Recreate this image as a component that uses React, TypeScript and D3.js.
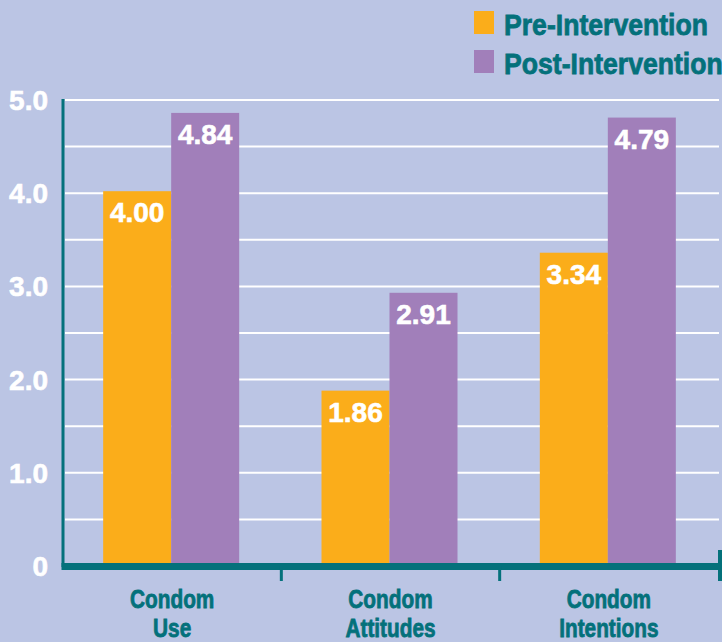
import React from "react";
import * as d3 from "d3";

const categories = [["Condom", "Use"], ["Condom", "Attitudes"], ["Condom", "Intentions"]];
const seriesNames = ["Pre-Intervention", "Post-Intervention"];
const preValues = [4.0, 1.86, 3.34];
const postValues = [4.84, 2.91, 4.79];
const yTickValues = [0, 1, 2, 3, 4, 5];
const yTickLabels = ["0", "1.0", "2.0", "3.0", "4.0", "5.0"];
const gridValues = [0.5, 1, 1.5, 2, 2.5, 3, 3.5, 4, 4.5, 5];

const W = 722;
const H = 642;
const BG = "#BBC5E4";
const TEAL = "#04717B";
const colors = ["#FBAD1A", "#A17FBA"];
const FONT = "'Liberation Sans', Arial, Helvetica, sans-serif";

const App = () => {
  const x = d3
    .scaleBand()
    .domain(categories.map((c, i) => String(i)))
    .range([63, 718])
    .padding(0);
  const inner = d3
    .scaleBand()
    .domain(seriesNames)
    .range([0, 136])
    .padding(0);
  const y = d3.scaleLinear().domain([0, 5]).range([566, 100]);

  const series = [preValues, postValues];
  const offset = (x.bandwidth() - 136) / 2 - 1;

  return (
    <svg
      width={W}
      height={H}
      style={{ position: "absolute", left: 0, top: 0, display: "block" }}
    >
      <rect x={0} y={0} width={W} height={H} fill={BG} />

      {/* gridlines */}
      {gridValues.map((v) => (
        <line
          key={v}
          x1={65}
          x2={719}
          y1={y(v)}
          y2={y(v)}
          stroke="#ffffff"
          strokeWidth={2}
        />
      ))}

      {/* bars */}
      {categories.map((c, i) =>
        series.map((vals, s) => {
          const bx = (x(String(i)) || 0) + offset + (inner(seriesNames[s]) || 0);
          const by = y(vals[i]) - 2;
          return (
            <g key={`${i}-${s}`}>
              <rect
                x={bx}
                y={by}
                width={inner.bandwidth()}
                height={y(0) - by}
                fill={colors[s]}
              />
              <text
                x={bx + inner.bandwidth() / 2}
                y={by + 31}
                textAnchor="middle"
                fill="#ffffff"
                stroke="#ffffff"
                strokeWidth={0.6}
                fontFamily={FONT}
                fontWeight="bold"
                fontSize={28}
              >
                {vals[i].toFixed(2)}
              </text>
            </g>
          );
        })
      )}

      {/* y axis */}
      <line x1={63} x2={63} y1={99} y2={567} stroke={TEAL} strokeWidth={3} />
      {yTickValues.map((v, i) => (
        <text
          key={v}
          x={48}
          y={y(v)}
          dy="0.36em"
          textAnchor="end"
          fill="#ffffff"
          stroke="#ffffff"
          strokeWidth={0.6}
          fontFamily={FONT}
          fontWeight="bold"
          fontSize={28}
        >
          {yTickLabels[i]}
        </text>
      ))}

      {/* x axis */}
      <line x1={61.5} x2={722} y1={566.5} y2={566.5} stroke={TEAL} strokeWidth={7} />
      {categories.slice(1).map((c, i) => (
        <line
          key={i}
          x1={x(String(i + 1))}
          x2={x(String(i + 1))}
          y1={566}
          y2={581}
          stroke={TEAL}
          strokeWidth={3}
        />
      ))}
      <line x1={720} x2={720} y1={550} y2={581} stroke={TEAL} strokeWidth={4} />

      {categories.map((c, i) => {
        const cx = (x(String(i)) || 0) + x.bandwidth() / 2;
        return (
          <g key={i} transform={`translate(${cx},0) scale(0.8,1)`}>
            {c.map((line, j) => (
              <text
                key={j}
                x={0}
                y={608 + j * 29}
                textAnchor="middle"
                fill={TEAL}
                stroke={TEAL}
                strokeWidth={0.8}
                fontFamily={FONT}
                fontWeight="bold"
                fontSize={26}
              >
                {line}
              </text>
            ))}
          </g>
        );
      })}

      {/* legend */}
      {seriesNames.map((name, s) => (
        <g key={name}>
          <rect x={474} y={11 + s * 39} width={20} height={23} fill={colors[s]} />
          <g transform={`translate(504,${35 + s * 38.5}) scale(0.887,1)`}>
            <text
              x={0}
              y={0}
              fill={TEAL}
              stroke={TEAL}
              strokeWidth={0.8}
              fontFamily={FONT}
              fontWeight="bold"
              fontSize={30}
            >
              {name}
            </text>
          </g>
        </g>
      ))}
    </svg>
  );
};

export default App;
